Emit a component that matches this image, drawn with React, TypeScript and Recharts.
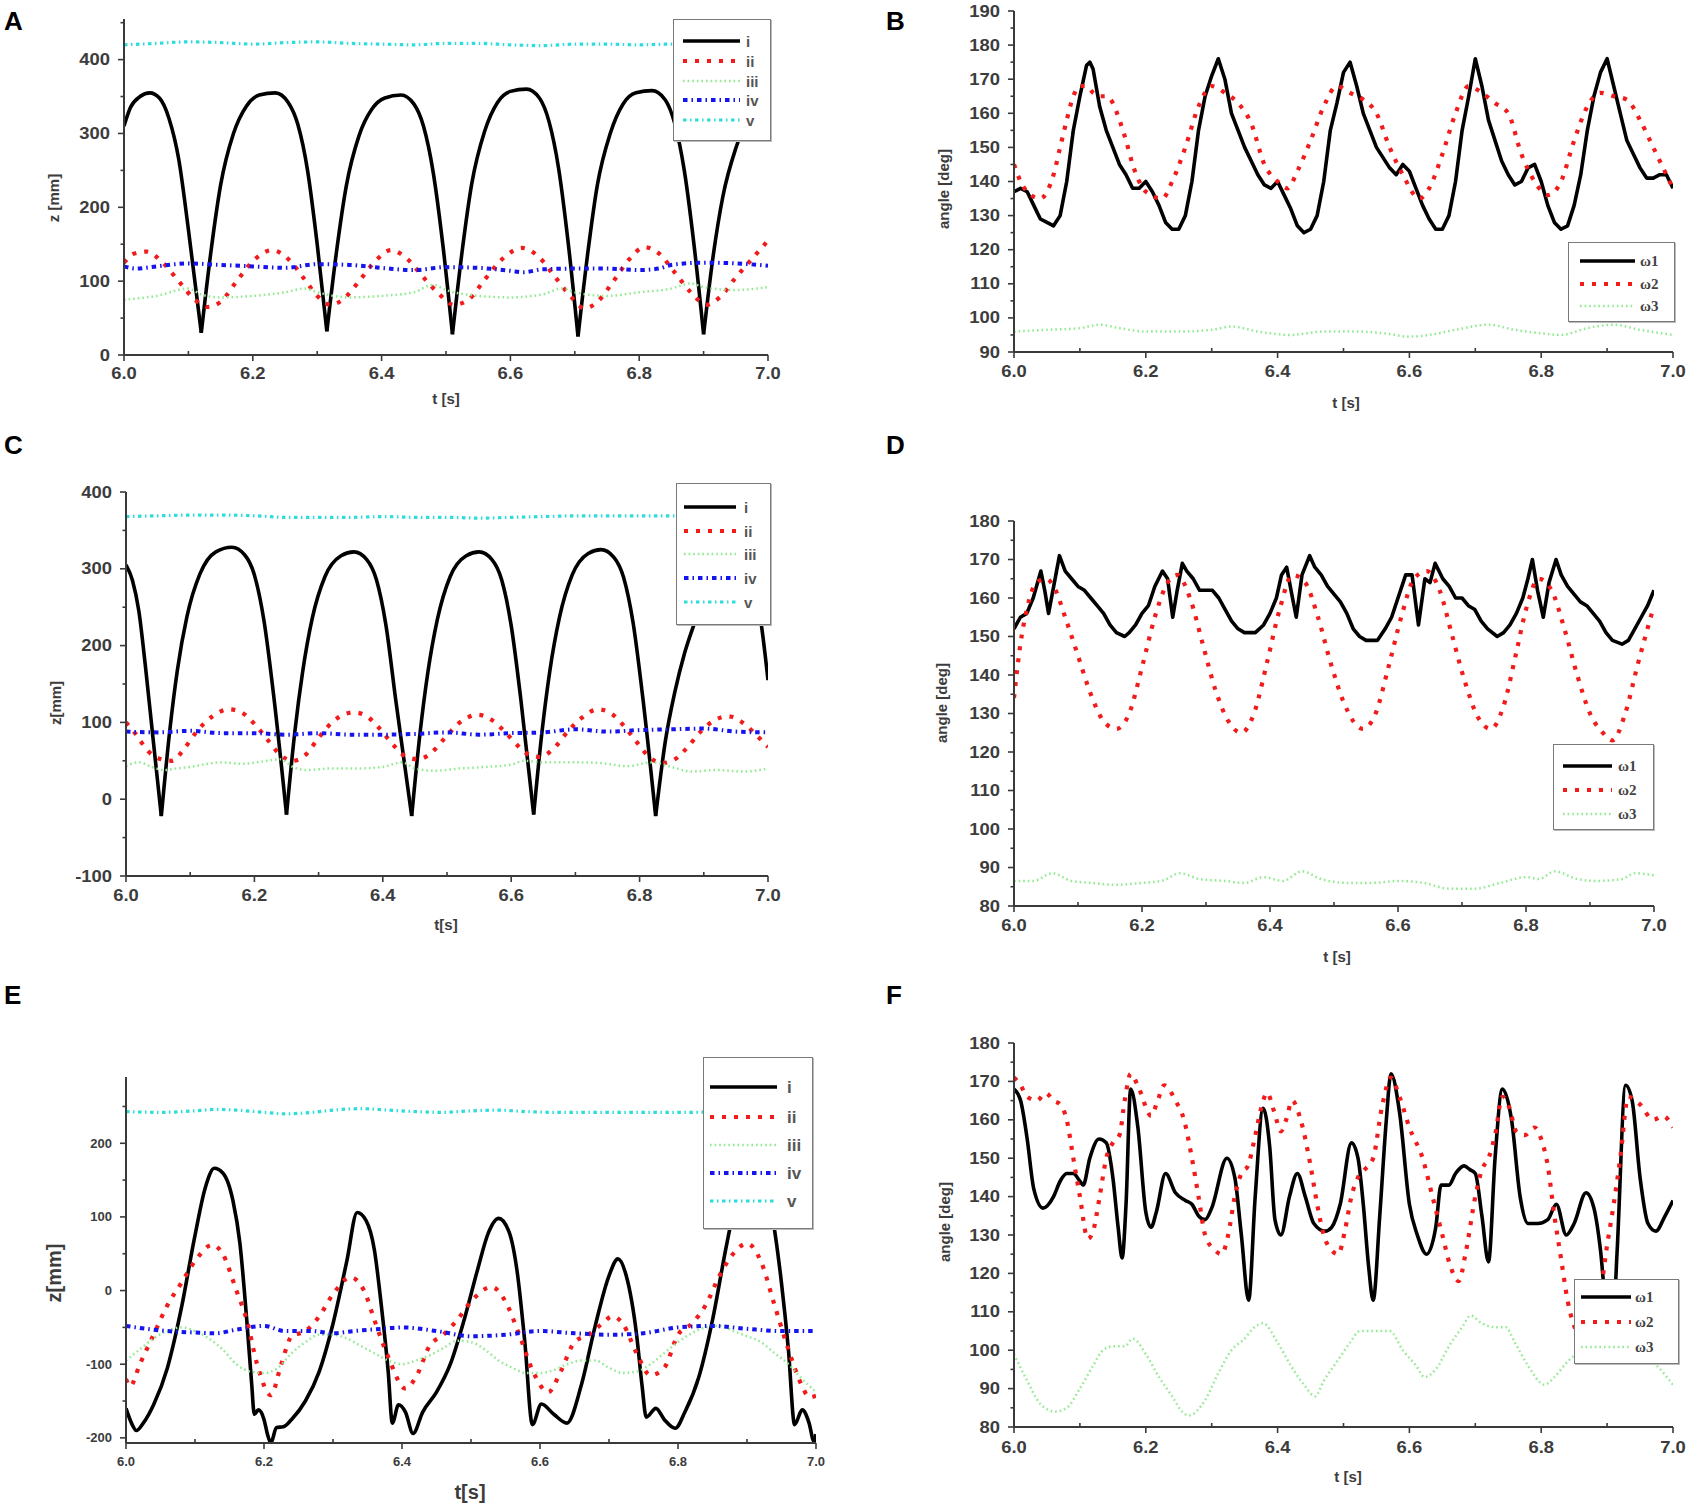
import React from 'react';
import { LineChart, Line, XAxis, YAxis } from 'recharts';

type P = [number, number][];

// ---------- shared ticks ----------
const X_MAJOR = [6.0, 6.2, 6.4, 6.6, 6.8, 7.0];
const X_MINOR = [6.1, 6.3, 6.5, 6.7, 6.9];
const Z_LABELS = ['i', 'ii', 'iii', 'iv', 'v'];
const W_LABELS = ['ω1', 'ω2', 'ω3'];

// ---------- Panel A : z [mm] ----------
const A_i: P = [[6.000,310],[6.010,335],[6.025,350],[6.040,355],[6.055,348],[6.070,320],[6.085,265],[6.100,170],[6.120,30],[6.135,140],[6.150,230],[6.170,300],[6.190,337],[6.210,352],[6.235,355],[6.255,342],[6.270,312],[6.285,250],[6.300,150],[6.315,32],[6.330,140],[6.345,228],[6.365,297],[6.385,333],[6.405,348],[6.430,352],[6.450,340],[6.465,310],[6.480,248],[6.495,150],[6.510,28],[6.525,140],[6.540,232],[6.560,303],[6.580,342],[6.600,357],[6.625,360],[6.645,348],[6.660,316],[6.675,252],[6.690,150],[6.705,25],[6.720,137],[6.735,230],[6.755,300],[6.775,340],[6.795,355],[6.820,358],[6.840,346],[6.855,314],[6.870,250],[6.885,150],[6.900,28],[6.915,135],[6.930,215],[6.950,280],[6.970,322],[6.985,345],[7.000,358]];
const A_i_CUSPS = [6.12, 6.315, 6.51, 6.705, 6.9];
const A_ii: P = [[6.000,125],[6.015,137],[6.035,140],[6.060,125],[6.085,100],[6.110,75],[6.130,65],[6.150,72],[6.175,100],[6.200,127],[6.230,142],[6.255,130],[6.280,103],[6.300,80],[6.320,68],[6.340,75],[6.365,100],[6.390,127],[6.415,142],[6.440,130],[6.465,105],[6.490,82],[6.512,68],[6.535,75],[6.560,102],[6.590,132],[6.618,145],[6.645,132],[6.670,105],[6.695,78],[6.715,63],[6.735,72],[6.760,100],[6.785,130],[6.808,146],[6.830,138],[6.855,112],[6.880,85],[6.905,68],[6.925,78],[6.950,105],[6.975,130],[7.000,155]];
const A_iii: P = [[6.00,75],[6.05,80],[6.10,90],[6.12,82],[6.15,78],[6.20,80],[6.25,85],[6.28,90],[6.30,85],[6.35,78],[6.40,80],[6.45,85],[6.48,95],[6.50,88],[6.55,80],[6.60,78],[6.65,82],[6.68,90],[6.70,85],[6.75,80],[6.80,85],[6.85,90],[6.88,97],[6.90,92],[6.95,88],[7.00,92]];
const A_iv: P = [[6.00,120],[6.02,117],[6.05,120],[6.10,124],[6.15,122],[6.20,120],[6.25,118],[6.30,123],[6.35,122],[6.40,118],[6.45,115],[6.50,119],[6.55,118],[6.60,114],[6.62,112],[6.65,116],[6.70,117],[6.75,117],[6.80,115],[6.83,117],[6.85,122],[6.90,125],[6.95,124],[7.00,121]];
const A_v: P = [[6.00,420],[6.05,422],[6.10,424],[6.15,423],[6.20,421],[6.25,423],[6.30,424],[6.35,422],[6.40,421],[6.45,420],[6.50,422],[6.55,422],[6.60,420],[6.65,419],[6.70,421],[6.75,421],[6.80,420],[6.85,421],[6.90,420],[7.00,420]];

// ---------- Panel B : angle [deg] ----------
const B_w1: P = [[6.00,137],[6.01,138],[6.02,137],[6.03,133],[6.04,129],[6.05,128],[6.06,127],[6.07,130],[6.08,140],[6.09,155],[6.10,165],[6.11,174],[6.115,175],[6.12,173],[6.13,162],[6.14,155],[6.15,150],[6.16,145],[6.17,142],[6.18,138],[6.19,138],[6.20,140],[6.21,137],[6.22,133],[6.23,128],[6.24,126],[6.25,126],[6.26,130],[6.27,140],[6.28,155],[6.29,165],[6.30,171],[6.31,176],[6.32,170],[6.33,160],[6.34,155],[6.35,150],[6.36,146],[6.37,142],[6.38,139],[6.39,138],[6.40,140],[6.41,136],[6.42,132],[6.43,127],[6.44,125],[6.45,126],[6.46,130],[6.47,140],[6.48,155],[6.49,163],[6.50,172],[6.51,175],[6.52,168],[6.53,160],[6.54,155],[6.55,150],[6.56,147],[6.57,144],[6.58,142],[6.59,145],[6.60,143],[6.61,138],[6.62,133],[6.63,129],[6.64,126],[6.65,126],[6.66,130],[6.67,140],[6.68,155],[6.69,165],[6.70,176],[6.71,168],[6.72,158],[6.73,152],[6.74,146],[6.75,142],[6.76,139],[6.77,140],[6.78,144],[6.79,145],[6.80,140],[6.81,133],[6.82,128],[6.83,126],[6.84,127],[6.85,133],[6.86,142],[6.87,155],[6.88,165],[6.89,172],[6.90,176],[6.91,168],[6.92,160],[6.93,152],[6.94,148],[6.95,144],[6.96,141],[6.97,141],[6.98,142],[6.99,142],[7.00,138]];
const B_w2: P = [[6.00,145],[6.01,140],[6.02,137],[6.04,135],[6.05,137],[6.06,142],[6.07,150],[6.08,158],[6.09,165],[6.10,168],[6.11,168],[6.12,166],[6.13,165],[6.14,165],[6.15,163],[6.16,158],[6.17,152],[6.18,145],[6.19,140],[6.20,137],[6.225,135],[6.24,140],[6.26,150],[6.28,162],[6.30,168],[6.32,166],[6.34,163],[6.36,157],[6.38,145],[6.40,140],[6.415,138],[6.43,143],[6.45,152],[6.47,162],[6.49,168],[6.51,166],[6.53,164],[6.55,160],[6.57,150],[6.59,142],[6.615,135],[6.63,138],[6.65,148],[6.67,160],[6.69,168],[6.71,166],[6.73,163],[6.75,160],[6.77,148],[6.79,140],[6.81,136],[6.83,140],[6.85,152],[6.87,162],[6.89,166],[6.91,165],[6.93,164],[6.95,158],[6.97,150],[6.99,142],[7.00,138]];
const B_w3: P = [[6.00,96],[6.05,96.5],[6.10,97],[6.13,98],[6.16,97],[6.20,96],[6.25,96],[6.30,96.5],[6.33,97.5],[6.37,96],[6.42,95],[6.47,96],[6.52,96],[6.56,95.5],[6.60,94.5],[6.63,95],[6.67,96.5],[6.72,98],[6.76,96.5],[6.80,95.5],[6.83,95],[6.87,97],[6.91,98],[6.95,96.5],[7.00,95]];

// ---------- Panel C : z[mm] ----------
const C_i: P = [[6.000,305],[6.010,285],[6.020,245],[6.030,175],[6.042,80],[6.055,-22],[6.068,88],[6.080,168],[6.095,238],[6.115,293],[6.140,322],[6.165,328],[6.185,318],[6.200,292],[6.215,232],[6.230,135],[6.250,-20],[6.263,88],[6.275,165],[6.290,235],[6.310,290],[6.335,317],[6.355,322],[6.375,312],[6.390,286],[6.405,226],[6.420,130],[6.445,-22],[6.458,86],[6.470,164],[6.485,234],[6.505,290],[6.530,317],[6.550,322],[6.570,312],[6.585,286],[6.600,226],[6.615,130],[6.635,-20],[6.648,88],[6.660,166],[6.675,236],[6.695,292],[6.720,320],[6.740,325],[6.760,315],[6.775,289],[6.790,229],[6.805,132],[6.825,-22],[6.840,75],[6.855,140],[6.870,190],[6.890,240],[6.915,300],[6.940,325],[6.960,312],[6.975,285],[6.990,225],[7.000,155]];
const C_i_CUSPS = [6.055, 6.25, 6.445, 6.635, 6.825];
const C_ii: P = [[6.000,100],[6.015,85],[6.035,62],[6.055,52],[6.072,50],[6.090,65],[6.110,88],[6.135,108],[6.160,117],[6.180,113],[6.200,98],[6.220,78],[6.240,58],[6.260,50],[6.280,58],[6.300,80],[6.325,103],[6.355,113],[6.375,108],[6.395,92],[6.415,72],[6.435,56],[6.455,52],[6.475,60],[6.495,78],[6.520,100],[6.548,110],[6.570,103],[6.590,88],[6.610,70],[6.630,57],[6.645,55],[6.665,65],[6.690,90],[6.710,106],[6.735,117],[6.755,112],[6.775,96],[6.795,75],[6.815,55],[6.835,47],[6.855,52],[6.875,68],[6.895,88],[6.915,102],[6.938,108],[6.960,100],[6.980,85],[7.000,68]];
const C_iii: P = [[6.00,43],[6.02,48],[6.04,42],[6.06,38],[6.08,40],[6.10,42],[6.12,45],[6.15,48],[6.18,46],[6.22,50],[6.24,52],[6.26,42],[6.28,38],[6.32,40],[6.36,40],[6.40,42],[6.43,48],[6.45,40],[6.48,37],[6.52,40],[6.56,42],[6.60,45],[6.62,50],[6.65,48],[6.70,48],[6.74,47],[6.78,43],[6.82,48],[6.85,42],[6.88,36],[6.92,38],[6.96,36],[7.00,40]];
const C_iv: P = [[6.00,88],[6.05,87],[6.10,89],[6.15,86],[6.20,86],[6.25,84],[6.30,86],[6.35,84],[6.40,84],[6.45,85],[6.50,87],[6.55,84],[6.60,86],[6.65,87],[6.70,91],[6.75,88],[6.80,90],[6.85,91],[6.90,92],[6.95,88],[7.00,87]];
const C_v: P = [[6.00,368],[6.05,369],[6.10,370],[6.15,370],[6.20,369],[6.25,367],[6.30,367],[6.35,367],[6.40,368],[6.45,367],[6.50,367],[6.55,366],[6.60,367],[6.65,368],[6.70,369],[6.75,369],[6.80,369],[6.85,369],[6.90,369],[7.00,369]];

// ---------- Panel D : angle [deg] ----------
const D_w1: P = [[6.00,152],[6.01,155],[6.02,156],[6.03,160],[6.042,167],[6.048,162],[6.054,156],[6.062,163],[6.071,171],[6.08,167],[6.09,165],[6.10,163],[6.11,162],[6.12,160],[6.13,158],[6.14,156],[6.15,153],[6.16,151],[6.173,150],[6.18,151],[6.19,153],[6.20,156],[6.21,158],[6.22,163],[6.232,167],[6.24,165],[6.248,155],[6.255,162],[6.263,169],[6.27,167],[6.28,165],[6.29,162],[6.30,162],[6.31,162],[6.32,160],[6.33,157],[6.34,154],[6.35,152],[6.36,151],[6.377,151],[6.39,153],[6.40,156],[6.41,160],[6.418,166],[6.426,168],[6.434,161],[6.441,155],[6.45,166],[6.462,171],[6.47,168],[6.48,166],[6.49,163],[6.50,161],[6.51,159],[6.52,156],[6.53,152],[6.54,150],[6.55,149],[6.568,149],[6.58,152],[6.59,155],[6.60,160],[6.612,166],[6.622,166],[6.632,153],[6.642,165],[6.65,164],[6.658,169],[6.67,165],[6.68,163],[6.69,160],[6.70,160],[6.71,158],[6.72,157],[6.73,154],[6.74,152],[6.755,150],[6.765,151],[6.775,153],[6.785,156],[6.795,160],[6.803,165],[6.81,170],[6.818,162],[6.827,155],[6.836,164],[6.847,170],[6.855,166],[6.865,163],[6.875,161],[6.885,159],[6.895,158],[6.905,156],[6.915,154],[6.925,151],[6.935,149],[6.95,148],[6.96,149],[6.97,152],[6.98,155],[6.99,158],[7.00,162]];
const D_w2: P = [[6.000,134],[6.010,148],[6.020,157],[6.035,164],[6.050,165],[6.065,162],[6.080,155],[6.100,145],[6.120,135],[6.140,128],[6.160,126],[6.180,130],[6.200,142],[6.220,155],[6.240,164],[6.255,166],[6.275,160],[6.295,148],[6.315,136],[6.335,128],[6.355,125],[6.375,130],[6.395,143],[6.415,157],[6.435,166],[6.455,164],[6.475,155],[6.495,143],[6.515,133],[6.545,126],[6.565,130],[6.585,142],[6.605,155],[6.625,165],[6.645,167],[6.665,162],[6.685,150],[6.705,138],[6.725,129],[6.745,126],[6.765,132],[6.785,146],[6.800,157],[6.820,165],[6.840,162],[6.860,152],[6.880,140],[6.900,130],[6.920,125],[6.935,123],[6.955,130],[6.975,143],[7.000,158]];
const D_w3: P = [[6.00,86.5],[6.03,86.5],[6.06,88.5],[6.09,86.5],[6.12,86],[6.16,85.5],[6.20,86],[6.23,86.5],[6.26,88.5],[6.29,87],[6.33,86.5],[6.36,86],[6.39,87.5],[6.42,86.5],[6.45,89],[6.48,87],[6.52,86],[6.56,86],[6.60,86.5],[6.64,86],[6.68,84.5],[6.72,84.5],[6.76,86],[6.80,87.5],[6.82,87],[6.845,89],[6.88,87],[6.91,86.5],[6.95,87],[6.97,88.5],[7.00,88]];

// ---------- Panel E : z[mm] ----------
const E_i: P = [[6.000,-160],[6.008,-180],[6.015,-190],[6.025,-180],[6.040,-155],[6.060,-105],[6.080,-25],[6.100,75],[6.115,140],[6.128,166],[6.140,160],[6.155,122],[6.165,65],[6.175,-40],[6.182,-125],[6.186,-168],[6.192,-162],[6.200,-175],[6.205,-195],[6.210,-207],[6.218,-186],[6.228,-185],[6.240,-175],[6.260,-150],[6.280,-110],[6.300,-45],[6.320,40],[6.335,106],[6.348,95],[6.360,55],[6.370,-20],[6.380,-110],[6.386,-180],[6.395,-155],[6.405,-165],[6.416,-194],[6.430,-165],[6.450,-138],[6.470,-100],[6.490,-40],[6.510,30],[6.525,78],[6.540,98],[6.555,80],[6.567,25],[6.578,-70],[6.589,-182],[6.602,-154],[6.620,-168],[6.639,-180],[6.660,-128],[6.680,-48],[6.700,20],[6.713,43],[6.725,20],[6.740,-60],[6.748,-130],[6.754,-172],[6.768,-160],[6.780,-175],[6.796,-187],[6.810,-165],[6.830,-118],[6.850,-40],[6.870,60],[6.890,145],[6.905,172],[6.920,160],[6.935,110],[6.950,10],[6.960,-80],[6.969,-182],[6.980,-162],[6.990,-180],[6.997,-205],[7.000,-195]];
const E_ii: P = [[6.000,-120],[6.006,-130],[6.020,-100],[6.040,-60],[6.060,-20],[6.080,10],[6.100,40],[6.125,62],[6.140,50],[6.160,0],[6.175,-40],[6.190,-100],[6.210,-142],[6.225,-100],[6.240,-62],[6.260,-55],[6.280,-35],[6.300,-5],[6.325,18],[6.345,0],[6.360,-40],[6.380,-90],[6.405,-133],[6.420,-118],[6.440,-75],[6.460,-60],[6.480,-40],[6.500,-15],[6.530,5],[6.550,-15],[6.570,-60],[6.590,-110],[6.612,-138],[6.630,-110],[6.650,-70],[6.670,-60],[6.690,-45],[6.705,-35],[6.720,-45],[6.740,-85],[6.760,-115],[6.780,-105],[6.800,-60],[6.820,-45],[6.840,-20],[6.860,20],[6.880,50],[6.900,64],[6.920,40],[6.940,-20],[6.960,-80],[6.980,-130],[6.990,-145],[7.000,-143]];
const E_iii: P = [[6.00,-95],[6.02,-80],[6.04,-65],[6.06,-55],[6.08,-50],[6.10,-55],[6.12,-65],[6.14,-80],[6.16,-100],[6.18,-110],[6.20,-112],[6.22,-105],[6.24,-85],[6.26,-70],[6.28,-60],[6.30,-60],[6.32,-65],[6.34,-75],[6.36,-85],[6.38,-95],[6.40,-100],[6.42,-95],[6.44,-88],[6.46,-78],[6.48,-68],[6.50,-70],[6.52,-80],[6.54,-95],[6.56,-105],[6.58,-112],[6.60,-112],[6.62,-108],[6.64,-100],[6.66,-95],[6.68,-95],[6.70,-105],[6.72,-112],[6.74,-110],[6.76,-100],[6.78,-85],[6.80,-70],[6.82,-58],[6.84,-50],[6.86,-48],[6.88,-55],[6.90,-62],[6.92,-70],[6.94,-85],[6.96,-100],[6.98,-120],[7.00,-138]];
const E_iv: P = [[6.00,-48],[6.03,-52],[6.06,-55],[6.10,-57],[6.13,-58],[6.16,-53],[6.20,-48],[6.23,-55],[6.27,-55],[6.30,-58],[6.33,-55],[6.37,-52],[6.40,-50],[6.45,-55],[6.50,-62],[6.55,-60],[6.60,-55],[6.65,-58],[6.70,-60],[6.75,-58],[6.80,-50],[6.85,-48],[6.90,-52],[6.95,-55],[7.00,-55]];
const E_v: P = [[6.00,243],[6.05,242],[6.10,244],[6.13,246],[6.16,245],[6.20,242],[6.23,240],[6.27,242],[6.30,245],[6.34,247],[6.38,245],[6.42,243],[6.46,242],[6.50,244],[6.54,245],[6.58,243],[6.62,242],[6.66,242],[6.70,242],[6.74,242],[6.78,242],[6.82,242],[6.86,243],[7.00,243]];

// ---------- Panel F : angle [deg] ----------
const F_w1: P = [[6.000,168],[6.010,165],[6.020,155],[6.030,142],[6.044,137],[6.060,140],[6.070,144],[6.080,146],[6.090,146],[6.100,144],[6.105,143],[6.115,150],[6.129,155],[6.140,154],[6.150,145],[6.158,132],[6.164,124],[6.170,138],[6.177,168],[6.188,158],[6.200,136],[6.208,132],[6.216,136],[6.230,146],[6.245,141],[6.260,139],[6.270,138],[6.280,135],[6.290,134],[6.300,137],[6.323,150],[6.335,145],[6.345,130],[6.356,113],[6.366,140],[6.378,163],[6.388,153],[6.396,134],[6.405,130],[6.418,140],[6.430,146],[6.442,140],[6.455,133],[6.472,131],[6.482,132],[6.495,138],[6.512,154],[6.522,150],[6.530,138],[6.538,122],[6.545,113],[6.555,135],[6.565,160],[6.572,172],[6.585,162],[6.600,138],[6.612,130],[6.626,125],[6.640,132],[6.648,143],[6.660,143],[6.670,146],[6.683,148],[6.692,147],[6.700,146],[6.710,135],[6.720,123],[6.730,150],[6.741,168],[6.755,160],[6.768,140],[6.780,133],[6.795,133],[6.810,134],[6.823,138],[6.838,130],[6.850,133],[6.868,141],[6.880,137],[6.890,126],[6.900,108],[6.908,104],[6.915,125],[6.928,169],[6.938,165],[6.950,145],[6.962,133],[6.974,131],[6.988,135],[7.000,139]];
const F_w2: P = [[6.000,171],[6.010,169],[6.020,166],[6.035,165],[6.048,167],[6.060,165],[6.070,164],[6.080,160],[6.090,150],[6.100,140],[6.112,129],[6.120,131],[6.130,140],[6.140,150],[6.150,154],[6.160,156],[6.168,165],[6.177,172],[6.190,168],[6.208,161],[6.218,165],[6.228,169],[6.245,165],[6.258,160],[6.270,150],[6.280,140],[6.290,130],[6.305,126],[6.315,125],[6.325,130],[6.335,140],[6.345,146],[6.355,148],[6.365,155],[6.375,163],[6.384,167],[6.395,162],[6.405,157],[6.413,160],[6.422,165],[6.435,160],[6.450,148],[6.460,138],[6.470,130],[6.482,126],[6.492,125],[6.502,131],[6.512,140],[6.522,145],[6.532,147],[6.545,150],[6.558,163],[6.572,171],[6.585,166],[6.600,158],[6.620,150],[6.635,140],[6.650,130],[6.662,122],[6.675,118],[6.685,125],[6.700,140],[6.710,147],[6.720,150],[6.730,156],[6.741,166],[6.752,163],[6.762,157],[6.775,156],[6.790,158],[6.800,155],[6.810,148],[6.820,135],[6.830,124],[6.840,113],[6.855,104],[6.870,100],[6.885,108],[6.898,125],[6.910,138],[6.920,150],[6.932,166],[6.950,164],[6.970,160],[6.985,161],[7.000,158]];
const F_w3: P = [[6.000,99],[6.020,92],[6.040,86],[6.063,84],[6.080,85],[6.100,90],[6.120,96],[6.135,100],[6.150,101],[6.168,101],[6.180,103],[6.200,99],[6.220,93],[6.240,88],[6.255,84],[6.265,83],[6.290,87],[6.310,94],[6.330,100],[6.350,103],[6.365,106],[6.378,107],[6.400,102],[6.420,96],[6.440,91],[6.457,88],[6.470,92],[6.490,97],[6.510,102],[6.525,105],[6.550,105],[6.570,105],[6.590,100],[6.610,96],[6.623,93],[6.640,95],[6.660,101],[6.680,106],[6.693,109],[6.710,107],[6.730,106],[6.746,106],[6.760,102],[6.780,96],[6.805,91],[6.820,93],[6.840,97],[6.860,100],[6.900,104],[6.940,100],[6.975,96],[7.000,91]];

// ---------- tick values ----------
const Z_A_MAJOR = [0, 100, 200, 300, 400];
const Z_A_MINOR = [50, 150, 250, 350, 450];
const Z_C_MAJOR = [-100, 0, 100, 200, 300, 400];
const Z_C_MINOR = [-50, 50, 150, 250, 350];
const Z_E_MAJOR = [-200, -100, 0, 100, 200];
const Z_E_MINOR = [-150, -50, 50, 150, 250];
const ANG_B_MAJOR = [90, 100, 110, 120, 130, 140, 150, 160, 170, 180, 190];
const ANG_B_MINOR = [95, 105, 115, 125, 135, 145, 155, 165, 175, 185];
const ANG_DF_MAJOR = [80, 90, 100, 110, 120, 130, 140, 150, 160, 170, 180];
const ANG_DF_MINOR = [85, 95, 105, 115, 125, 135, 145, 155, 165, 175];

// ---------- styles ----------
type Sty = { stroke: string; strokeWidth: number; strokeDasharray?: string };
const BLACK: Sty = { stroke: '#000', strokeWidth: 3.6 };
const RED: Sty = { stroke: '#f21b1b', strokeWidth: 4.2, strokeDasharray: '4 8' };
const GREEN: Sty = { stroke: '#92ea92', strokeWidth: 2.5, strokeDasharray: '1.6 3' };
const BLUE: Sty = { stroke: '#1414ee', strokeWidth: 4, strokeDasharray: '4.5 4 1.5 4' };
const CYAN: Sty = { stroke: '#2fdcdc', strokeWidth: 3.2, strokeDasharray: '3.5 3.5 1.5 3.5' };

const SANS = '"Liberation Sans", Arial, sans-serif';
const SERIF = '"Liberation Serif", "Times New Roman", serif';
const AXIS_COLOR = '#3a3a3a';
const TEXT_COLOR = '#3c3c3c';

type Series = { data: P; sty: Sty; curve: 'linear' | 'monotone'; cuts?: number[] };
type Legend = { x: number; y: number; w: number; h: number; rows: number[]; sx1: number; sx2: number; tx: number; labels: string[]; styles: Sty[]; serif: boolean; fs: number };
type Cfg = {
  letter: string; lx: number; ly: number;
  x0: number; y0: number; x1: number; y1: number;
  yDomain: [number, number]; yMajor: number[]; yMinor: number[];
  series: Series[];
  xTitle: string; xtx: number; xty: number; xtfs: number;
  yTitle: string; ytx: number; yty: number; ytfs: number;
  tickFs: number; tickSx: number; xLabDy: number;
  legend: Legend;
};

const toD = (a: P) => a.map(([t, v]) => ({ t, v }));
const near = (a: number[], v: number) => a.some((m) => Math.abs(m - v) < 1e-6);

// split a series into pieces at its sharp minima so each arch can be smooth while the cusp stays sharp
function splitAt(a: P, cuts?: number[]): P[] {
  if (!cuts || !cuts.length) return [a];
  const segs: P[] = [];
  let cur: P = [];
  for (const p of a) {
    cur.push(p);
    if (near(cuts, p[0])) {
      segs.push(cur);
      cur = [p];
    }
  }
  if (cur.length > 1) segs.push(cur);
  return segs;
}

function Panel({ c }: { c: Cfg }) {
  const PL = 80, PT = 20, PR = 20, PB = 60;
  const W = c.x1 - c.x0 + PL + PR;
  const H = c.y1 - c.y0 + PT + PB;
  const axisY = PT + (c.y1 - c.y0);
  const axisX = PL;
  const xTicks = [...X_MAJOR, ...X_MINOR].sort((a, b) => a - b);
  const yTicks = [...c.yMajor, ...c.yMinor].sort((a, b) => a - b);

  const renderXTick = (p: any) => {
    const v = p.payload.value;
    const x = p.x;
    const major = near(X_MAJOR, v);
    return (
      <g key={`xt-${v}`}>
        <line x1={x} x2={x} y1={axisY} y2={major ? axisY + 6 : axisY - 4} stroke={AXIS_COLOR} strokeWidth={1.6} />
        {major && (
          <text transform={`translate(${x},${axisY + c.xLabDy}) scale(${c.tickSx},1)`} x={0} y={0} textAnchor="middle" dominantBaseline="central" fontFamily={SANS} fontSize={c.tickFs} fontWeight={700} fill={TEXT_COLOR}>
            {v.toFixed(1)}
          </text>
        )}
      </g>
    );
  };
  const renderYTick = (p: any) => {
    const v = p.payload.value;
    const y = p.y;
    const major = near(c.yMajor, v);
    return (
      <g key={`yt-${v}`}>
        <line x1={axisX} x2={major ? axisX - 6 : axisX - 3.5} y1={y} y2={y} stroke={AXIS_COLOR} strokeWidth={1.6} />
        {major && (
          <text transform={`translate(${axisX - 14},${y}) scale(${c.tickSx},1)`} x={0} y={0} textAnchor="end" dominantBaseline="central" fontFamily={SANS} fontSize={c.tickFs} fontWeight={700} fill={TEXT_COLOR}>
            {String(v)}
          </text>
        )}
      </g>
    );
  };

  const lines: { d: P; sty: Sty; curve: 'linear' | 'monotone' }[] = [];
  c.series.forEach((s) => splitAt(s.data, s.cuts).forEach((d) => lines.push({ d, sty: s.sty, curve: s.curve })));

  return (
    <div style={{ position: 'absolute', left: c.x0 - PL, top: c.y0 - PT, width: W, height: H }}>
      <LineChart width={W} height={H} margin={{ top: PT, right: PR, left: 0, bottom: 0 }}>
        <XAxis
          type="number"
          dataKey="t"
          domain={[6, 7]}
          ticks={xTicks}
          interval={0}
          allowDataOverflow
          height={PB}
          tickLine={false}
          tickSize={0}
          tickMargin={0}
          axisLine={{ stroke: AXIS_COLOR, strokeWidth: 2 }}
          tick={renderXTick}
        />
        <YAxis
          type="number"
          dataKey="v"
          domain={c.yDomain}
          ticks={yTicks}
          interval={0}
          allowDataOverflow
          width={PL}
          tickLine={false}
          tickSize={0}
          tickMargin={0}
          axisLine={{ stroke: AXIS_COLOR, strokeWidth: 2 }}
          tick={renderYTick}
        />
        {lines.map((s, i) => (
          <Line
            key={i}
            data={toD(s.d)}
            dataKey="v"
            type={s.curve}
            dot={false}
            activeDot={false}
            isAnimationActive={false}
            stroke={s.sty.stroke}
            strokeWidth={s.sty.strokeWidth}
            strokeDasharray={s.sty.strokeDasharray}
            strokeLinecap="butt"
            strokeLinejoin="round"
          />
        ))}
      </LineChart>
    </div>
  );
}

function LegendBox({ l }: { l: Legend }) {
  return (
    <div style={{ position: 'absolute', left: l.x, top: l.y, width: l.w, height: l.h, background: '#fff', border: '1.6px solid #7a7a7a', boxSizing: 'border-box', boxShadow: '1px 1px 0 #bbb' }}>
      <svg width={l.w - 3} height={l.h - 3} style={{ display: 'block' }}>
        {l.labels.map((lab, i) => (
          <g key={lab}>
            <line x1={l.sx1} x2={l.sx2} y1={l.rows[i]} y2={l.rows[i]} stroke={l.styles[i].stroke} strokeWidth={l.styles[i].strokeWidth} strokeDasharray={l.styles[i].strokeDasharray} />
            <text x={l.tx} y={l.rows[i]} dominantBaseline="central" fontFamily={l.serif ? SERIF : SANS} fontWeight={700} fontSize={l.fs} fill={l.serif ? '#444' : '#555'}>
              {lab}
            </text>
          </g>
        ))}
      </svg>
    </div>
  );
}

const Z_STYLES = [BLACK, RED, GREEN, BLUE, CYAN];
const W_STYLES = [BLACK, RED, GREEN];

const PANELS: Cfg[] = [
  {
    letter: 'A', lx: 4, ly: 8,
    x0: 124, y0: 19, x1: 768, y1: 355,
    yDomain: [0, 455], yMajor: Z_A_MAJOR, yMinor: Z_A_MINOR,
    series: [
      { data: A_i, sty: BLACK, curve: 'monotone', cuts: A_i_CUSPS },
      { data: A_ii, sty: RED, curve: 'monotone' },
      { data: A_iii, sty: GREEN, curve: 'monotone' },
      { data: A_iv, sty: BLUE, curve: 'monotone' },
      { data: A_v, sty: CYAN, curve: 'monotone' },
    ],
    xTitle: 't [s]', xtx: 446, xty: 398, xtfs: 15,
    yTitle: 'z [mm]', ytx: 53, yty: 198, ytfs: 15,
    tickFs: 16, tickSx: 1.15, xLabDy: 18,
    legend: { x: 673, y: 19, w: 98, h: 122, rows: [21, 41, 61, 80, 100], sx1: 9, sx2: 66, tx: 72, labels: Z_LABELS, styles: Z_STYLES, serif: false, fs: 15 },
  },
  {
    letter: 'B', lx: 886, ly: 8,
    x0: 1014, y0: 11, x1: 1673, y1: 352,
    yDomain: [90, 190], yMajor: ANG_B_MAJOR, yMinor: ANG_B_MINOR,
    series: [
      { data: B_w1, sty: BLACK, curve: 'linear' },
      { data: B_w2, sty: RED, curve: 'monotone' },
      { data: B_w3, sty: GREEN, curve: 'monotone' },
    ],
    xTitle: 't [s]', xtx: 1346, xty: 402, xtfs: 15,
    yTitle: 'angle [deg]', ytx: 943, yty: 189, ytfs: 15,
    tickFs: 16, tickSx: 1.15, xLabDy: 19,
    legend: { x: 1568, y: 242, w: 107, h: 80, rows: [18, 41, 63], sx1: 11, sx2: 66, tx: 71, labels: W_LABELS, styles: W_STYLES, serif: true, fs: 15 },
  },
  {
    letter: 'C', lx: 4, ly: 432,
    x0: 126, y0: 492, x1: 768, y1: 876,
    yDomain: [-100, 400], yMajor: Z_C_MAJOR, yMinor: Z_C_MINOR,
    series: [
      { data: C_i, sty: BLACK, curve: 'monotone', cuts: C_i_CUSPS },
      { data: C_ii, sty: RED, curve: 'monotone' },
      { data: C_iii, sty: GREEN, curve: 'monotone' },
      { data: C_iv, sty: BLUE, curve: 'monotone' },
      { data: C_v, sty: CYAN, curve: 'monotone' },
    ],
    xTitle: 't[s]', xtx: 446, xty: 924, xtfs: 15,
    yTitle: 'z[mm]', ytx: 55, yty: 703, ytfs: 15,
    tickFs: 16, tickSx: 1.15, xLabDy: 19,
    legend: { x: 676, y: 483, w: 95, h: 142, rows: [23, 47, 70, 94, 118], sx1: 7, sx2: 59, tx: 67, labels: Z_LABELS, styles: Z_STYLES, serif: false, fs: 15 },
  },
  {
    letter: 'D', lx: 886, ly: 432,
    x0: 1014, y0: 521, x1: 1654, y1: 906,
    yDomain: [80, 180], yMajor: ANG_DF_MAJOR, yMinor: ANG_DF_MINOR,
    series: [
      { data: D_w1, sty: BLACK, curve: 'linear' },
      { data: D_w2, sty: RED, curve: 'monotone' },
      { data: D_w3, sty: GREEN, curve: 'monotone' },
    ],
    xTitle: 't [s]', xtx: 1337, xty: 956, xtfs: 15,
    yTitle: 'angle [deg]', ytx: 941, yty: 703, ytfs: 15,
    tickFs: 16, tickSx: 1.15, xLabDy: 19,
    legend: { x: 1553, y: 744, w: 101, h: 86, rows: [21, 45, 69], sx1: 9, sx2: 58, tx: 64, labels: W_LABELS, styles: W_STYLES, serif: true, fs: 15 },
  },
  {
    letter: 'E', lx: 4, ly: 982,
    x0: 126, y0: 1077, x1: 816, y1: 1443,
    yDomain: [-207, 290], yMajor: Z_E_MAJOR, yMinor: Z_E_MINOR,
    series: [
      { data: E_i, sty: BLACK, curve: 'monotone' },
      { data: E_ii, sty: RED, curve: 'monotone' },
      { data: E_iii, sty: GREEN, curve: 'monotone' },
      { data: E_iv, sty: BLUE, curve: 'monotone' },
      { data: E_v, sty: CYAN, curve: 'monotone' },
    ],
    xTitle: 't[s]', xtx: 470, xty: 1492, xtfs: 20,
    yTitle: 'z[mm]', ytx: 54, yty: 1273, ytfs: 20,
    tickFs: 13, tickSx: 1.0, xLabDy: 18,
    legend: { x: 703, y: 1057, w: 110, h: 172, rows: [29, 59, 87, 115, 143], sx1: 6, sx2: 73, tx: 83, labels: Z_LABELS, styles: Z_STYLES, serif: false, fs: 17 },
  },
  {
    letter: 'F', lx: 886, ly: 982,
    x0: 1014, y0: 1043, x1: 1673, y1: 1427,
    yDomain: [80, 180], yMajor: ANG_DF_MAJOR, yMinor: ANG_DF_MINOR,
    series: [
      { data: F_w1, sty: BLACK, curve: 'monotone' },
      { data: F_w2, sty: RED, curve: 'monotone' },
      { data: F_w3, sty: GREEN, curve: 'monotone' },
    ],
    xTitle: 't [s]', xtx: 1348, xty: 1476, xtfs: 15,
    yTitle: 'angle [deg]', ytx: 944, yty: 1222, ytfs: 15,
    tickFs: 16, tickSx: 1.15, xLabDy: 20,
    legend: { x: 1574, y: 1279, w: 105, h: 85, rows: [17, 42, 67], sx1: 6, sx2: 56, tx: 60, labels: W_LABELS, styles: W_STYLES, serif: true, fs: 15 },
  },
];

export default function App() {
  return (
    <div style={{ position: 'absolute', left: 0, top: 0, width: 1695, height: 1509, background: '#fff', overflow: 'hidden' }}>
      {PANELS.map((c) => (
        <Panel key={c.letter} c={c} />
      ))}
      {PANELS.map((c) => (
        <React.Fragment key={`t-${c.letter}`}>
          <div style={{ position: 'absolute', left: c.lx, top: c.ly, fontFamily: SANS, fontWeight: 700, fontSize: 26, lineHeight: '26px', color: '#000' }}>{c.letter}</div>
          <div style={{ position: 'absolute', left: c.xtx, top: c.xty, transform: 'translate(-50%, -50%)', fontFamily: SANS, fontWeight: 700, fontSize: c.xtfs, color: TEXT_COLOR, whiteSpace: 'nowrap' }}>{c.xTitle}</div>
          <div style={{ position: 'absolute', left: c.ytx, top: c.yty, transform: 'translate(-50%, -50%) rotate(-90deg)', fontFamily: SANS, fontWeight: 700, fontSize: c.ytfs, color: TEXT_COLOR, whiteSpace: 'nowrap' }}>{c.yTitle}</div>
          <LegendBox l={c.legend} />
        </React.Fragment>
      ))}
    </div>
  );
}
